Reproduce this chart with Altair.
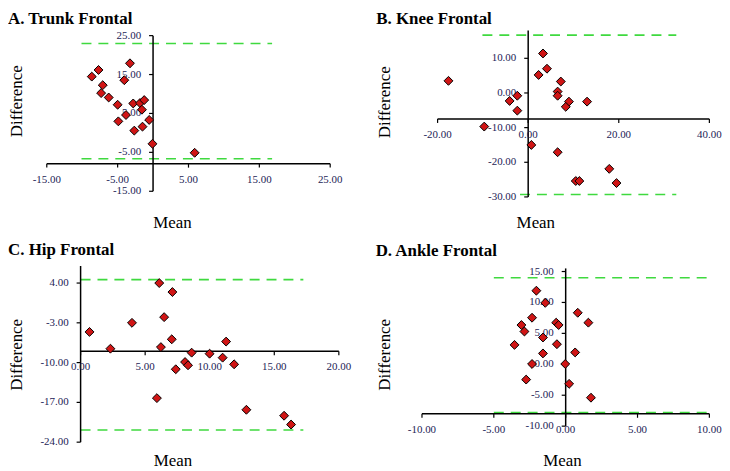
import altair as alt
import pandas as pd

# ---------------- data ----------------
titles = ["A. Trunk Frontal", "B. Knee Frontal", "C. Hip Frontal", "D. Ankle Frontal"]

a_mean = [-8.65, -7.7, -3.26, -4.06, -7.1, -7.33, -6.26, -5.0, -2.8, -1.85, -1.25, -1.57,
          -3.82, -4.9, -0.55, -1.49, -2.65, -0.08, 5.87]
a_diff = [14.47, 16.18, 17.89, 13.55, 12.27, 10.23, 9.1, 7.24, 7.57, 7.67, 8.44, 5.96,
          4.6, 2.97, 3.33, 1.61, 0.59, -2.8, -5.11]

b_mean = [-17.6, 3.27, 4.15, 2.3, 7.2, 6.5, 6.5, -2.4, -4.1, 9.0, 8.3, 13.0, -2.4, -9.7,
          0.7, 6.5, 17.9, 10.5, 11.3, 19.5]
b_diff = [3.5, 11.4, 7.0, 5.2, 3.3, 0.4, -0.8, -0.8, -2.3, -2.5, -4.0, -2.5, -5.1, -9.7,
          -15.0, -17.1, -21.9, -25.4, -25.4, -26.0]

c_mean = [0.69, 2.31, 3.98, 6.09, 7.11, 6.47, 7.06, 6.22, 11.27, 8.6, 9.99, 11.0, 8.09,
          8.32, 11.89, 7.37, 5.91, 12.84, 15.76, 16.3]
c_diff = [-4.6, -7.55, -3.0, 4.0, 2.42, -2.0, -5.9, -7.27, -6.3, -8.25, -8.43, -9.13, -9.9,
          -10.47, -10.3, -11.17, -16.25, -18.3, -19.35, -20.9]

d_mean = [-2.04, -1.42, -2.34, -3.08, -2.87, -0.66, -0.49, 0.84, 1.58, -1.58, -3.56, -0.61,
          -1.58, 0.66, -2.34, -0.03, -2.75, 0.24, 1.76]
d_diff = [11.9, 9.93, 7.53, 6.35, 5.3, 6.73, 6.35, 8.33, 6.73, 4.33, 3.14, 3.25, 1.76, 1.92,
          0.05, 0.05, -2.47, -3.16, -5.4]

# axis tick values
a_xticks = [-15, -5, 5, 15, 25]
a_yticks = [25, 15, 5, -5, -15]
b_xticks = [-20, 0, 20, 40]
b_yticks = [10, 0, -10, -20, -30]
c_xticks = [0, 5, 10, 15, 20]
c_yticks = [4, -3, -10, -17, -24]
d_xticks = [-10, -5, 0, 5, 10]
d_yticks = [15, 10, 5, 0, -5, -10]

# vertical axis extent (min, max), horizontal axis crossing value
a_yaxis = [-15, 25]
b_yaxis = [-30, 18]
c_yaxis = [-24, 7]
d_yaxis = [-10, 15.5]
x_cross = [-7.9, -7.5, -8.0, -8.0]

# limits of agreement: value, start, end
a_loa = [[23.0, -10.1, 16.8], [-6.65, -10.1, 16.8]]
b_loa = [[16.7, -10.1, 32.7], [-29.3, -1.8, 32.7]]
c_loa = [[4.6, 0.0, 17.25], [-21.85, 0.0, 17.25]]
d_loa = [[14.0, -5.0, 10.0], [-7.8, -5.0, 10.0]]

# ---------------- layout (pixel anchors of the reference) ----------------
col_x = [(47, 341), (424, 714)]
row_y = [(29, 197), (266, 444)]
x_anchor = [(-15, 47, 25, 332), (-20, 440, 40, 713.3), (0, 81, 20, 340.7), (-10, 424.3, 10, 713.3)]
y_anchor = [(25, 34.5, -15, 191), (10, 57.3, -30, 196.7), (4, 283.3, -24, 443.3), (15, 271.7, -10, 427.2)]
title_dx = [-39, -45.7, -39, -46.3]
title_off = [2, 2, 6, 6]
mean_x = [126, 114.3, 126.3, 141]
mean_y = [17.5, 17, 10, 10]
diff_x = [-21, -28.4, -21, -28.4]
diff_y = [71, 72, 89, 89]

SERIF = "Liberation Serif, Times New Roman, DejaVu Serif, serif"
LABEL = "#1c1c55"
GREEN = "#3fd93f"
RED = "#d01515"


def lin(v0, p0, v1, p1, p):
    return v0 + (p - p0) * (v1 - v0) / (p1 - p0)


def fmt(v):
    return f"{v:.2f}"


def panel(i, mean, diff, xticks, yticks, yaxis, loa):
    cx = col_x[i % 2]
    ry = row_y[i // 2]
    xa, ya = x_anchor[i], y_anchor[i]
    xdom = [lin(*xa, cx[0]), lin(*xa, cx[1])]
    ydom = [lin(*ya, ry[1]), lin(*ya, ry[0])]
    xs = alt.Scale(domain=xdom, nice=False, zero=False)
    ys = alt.Scale(domain=ydom, nice=False, zero=False)
    xc = x_cross[i]

    common = dict(domain=False, ticks=False, labels=False, grid=False,
                  titleFont=SERIF, titleFontSize=17, titleFontWeight="normal",
                  titleColor="black", titleAlign="center")
    xax = alt.Axis(title="Mean", titleX=mean_x[i], titleY=mean_y[i],
                   titleBaseline="top", titleAngle=0, **common)
    yax = alt.Axis(title="Difference", titleX=diff_x[i], titleY=diff_y[i],
                   titleBaseline="bottom", titleAngle=270, **common)

    def X(f):
        return alt.X(f, scale=xs, axis=xax)

    def Y(f):
        return alt.Y(f, scale=ys, axis=yax)

    pts = pd.DataFrame({"mean": mean, "diff": diff})
    points = alt.Chart(pts).mark_point(
        shape="diamond", filled=True, fill=RED, stroke="black", strokeWidth=1,
        size=80, opacity=1
    ).encode(x=X("mean:Q"), y=Y("diff:Q"))

    vax = alt.Chart(pd.DataFrame({"x": [0], "y": [yaxis[0]], "y2": [yaxis[1]]})).mark_rule(
        color="black", strokeWidth=1.5
    ).encode(x=X("x:Q"), y=Y("y:Q"), y2="y2:Q")
    hax = alt.Chart(pd.DataFrame({"y": [xc], "x": [xticks[0]], "x2": [xticks[-1]]})).mark_rule(
        color="black", strokeWidth=1.5
    ).encode(x=X("x:Q"), x2="x2:Q", y=Y("y:Q"))

    ydf = pd.DataFrame({"x": [0] * len(yticks), "y": yticks, "t": [fmt(v) for v in yticks]})
    xdf = pd.DataFrame({"x": xticks, "y": [xc] * len(xticks), "t": [fmt(v) for v in xticks]})

    yt = alt.Chart(ydf).mark_tick(orient="horizontal", size=4, thickness=1.2, xOffset=-2,
                                  color="black", opacity=1).encode(x=X("x:Q"), y=Y("y:Q"))
    xt = alt.Chart(xdf).mark_tick(orient="vertical", size=4, thickness=1.2, yOffset=2,
                                  color="black", opacity=1).encode(x=X("x:Q"), y=Y("y:Q"))
    yl = alt.Chart(ydf).mark_text(align="right", baseline="middle", dx=-12, font=SERIF,
                                  fontSize=11, color=LABEL).encode(
        x=X("x:Q"), y=Y("y:Q"), text="t:N")
    xl = alt.Chart(xdf).mark_text(align="center", baseline="middle", dy=16, font=SERIF,
                                  fontSize=11, color=LABEL).encode(
        x=X("x:Q"), y=Y("y:Q"), text="t:N")

    ldf = pd.DataFrame({"v": [l[0] for l in loa], "x": [l[1] for l in loa], "x2": [l[2] for l in loa]})
    loa_l = alt.Chart(ldf).mark_rule(color=GREEN, strokeWidth=1.6, strokeDash=[10, 7]).encode(
        x=X("x:Q"), x2="x2:Q", y=Y("v:Q"))

    return alt.layer(loa_l, vax, hax, yt, xt, yl, xl, points).properties(
        width=cx[1] - cx[0], height=ry[1] - ry[0],
        title=alt.TitleParams(text=titles[i], anchor="start", frame="group", font=SERIF,
                              fontSize=17, fontWeight="bold", color="black",
                              dx=title_dx[i], offset=title_off[i]),
    )


pA = panel(0, a_mean, a_diff, a_xticks, a_yticks, a_yaxis, a_loa)
pB = panel(1, b_mean, b_diff, b_xticks, b_yticks, b_yaxis, b_loa)
pC = panel(2, c_mean, c_diff, c_xticks, c_yticks, c_yaxis, c_loa)
pD = panel(3, d_mean, d_diff, d_xticks, d_yticks, d_yaxis, d_loa)

chart = alt.concat(
    pA, pB, pC, pD, columns=2,
    spacing={"row": row_y[1][0] - row_y[0][1], "column": col_x[1][0] - col_x[0][1]},
    bounds="flush",
).properties(padding=0, background="white").configure_view(stroke=None)

chart.save("out.html", embed_options={"renderer": "svg", "actions": False})
